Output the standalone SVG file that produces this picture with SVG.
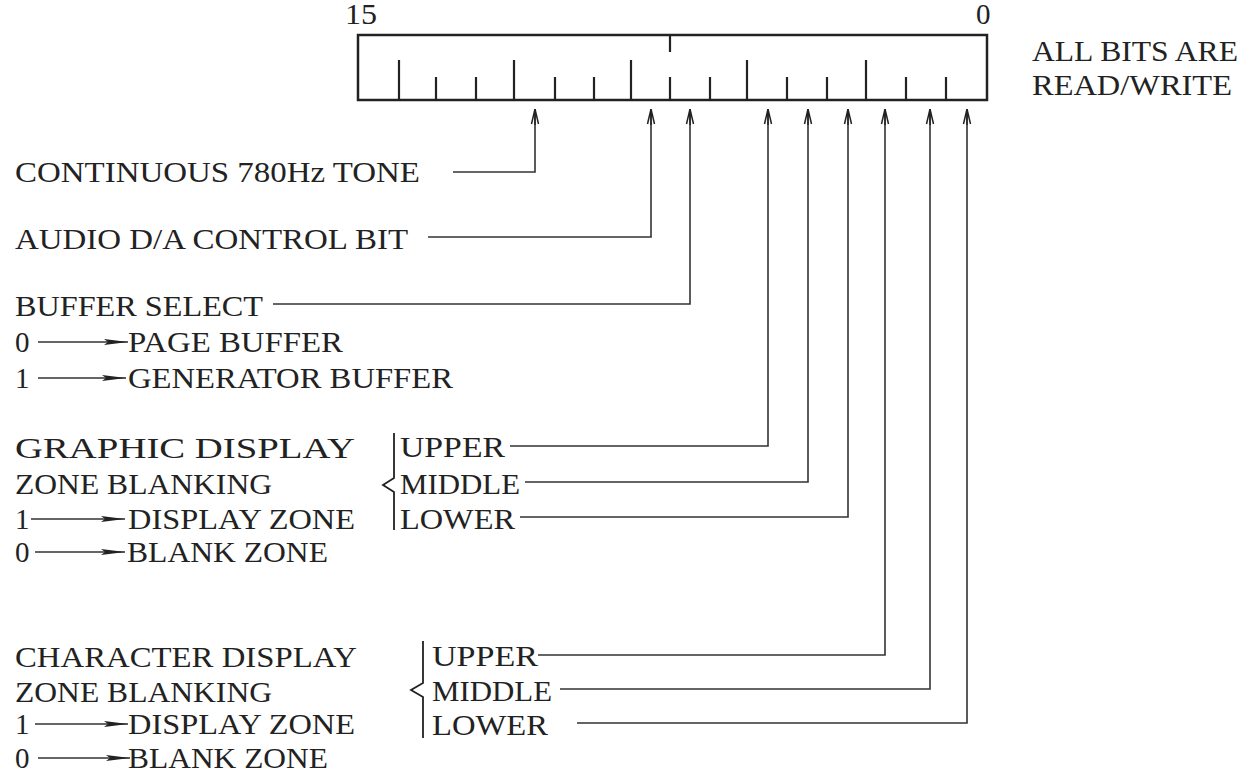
<svg xmlns="http://www.w3.org/2000/svg" width="1247" height="772" viewBox="0 0 1247 772">
<defs>
<marker id="up" viewBox="0 0 16 10" refX="16" refY="5" markerWidth="16" markerHeight="10" markerUnits="userSpaceOnUse" orient="auto">
<path d="M16,5 L1,1.5 M16,5 L1,8.5 M16,5 L0,5" fill="none" stroke="#222" stroke-width="1.5"/>
</marker>
<marker id="fa" viewBox="0 0 24 10" refX="24" refY="5" markerWidth="24" markerHeight="10" markerUnits="userSpaceOnUse" orient="auto">
<path d="M0,2 L24,5 L0,8 L4,5 Z" fill="#222"/>
</marker>
<style>
text{font-family:"Liberation Serif","DejaVu Serif",serif;font-size:29px;fill:#222}
.ln{fill:none;stroke:#333;stroke-width:1.6}
.tk{stroke:#222;stroke-width:2.2}
.br{fill:none;stroke:#222;stroke-width:1.8}
</style>
</defs>

<g id="register">
<rect x="358" y="35" width="629" height="65" fill="none" stroke="#222" stroke-width="2.5"/>
<line class="tk" x1="670" y1="35" x2="670" y2="52"/>
<g class="tk">
<line x1="399" y1="60" x2="399" y2="100"/>
<line x1="436" y1="77" x2="436" y2="100"/>
<line x1="476" y1="77" x2="476" y2="100"/>
<line x1="514" y1="60" x2="514" y2="100"/>
<line x1="555" y1="77" x2="555" y2="100"/>
<line x1="594" y1="77" x2="594" y2="100"/>
<line x1="631" y1="60" x2="631" y2="100"/>
<line x1="670" y1="77" x2="670" y2="100"/>
<line x1="710" y1="77" x2="710" y2="100"/>
<line x1="747" y1="60" x2="747" y2="100"/>
<line x1="787" y1="77" x2="787" y2="100"/>
<line x1="827" y1="77" x2="827" y2="100"/>
<line x1="866" y1="60" x2="866" y2="100"/>
<line x1="906" y1="77" x2="906" y2="100"/>
<line x1="946" y1="77" x2="946" y2="100"/>
</g>
<text x="345" y="24" textLength="32" lengthAdjust="spacingAndGlyphs">15</text>
<text x="976" y="24">0</text>
</g>

<g id="rw-note">
<text x="1032" y="61" textLength="206" lengthAdjust="spacingAndGlyphs">ALL BITS ARE</text>
<text x="1032" y="95" textLength="200" lengthAdjust="spacingAndGlyphs">READ/WRITE</text>
</g>

<g id="connectors">
<polyline class="ln" points="453,172 535,172 535,109" marker-end="url(#up)"/>
<polyline class="ln" points="428,237 651,237 651,109" marker-end="url(#up)"/>
<polyline class="ln" points="273,304 690,304 690,109" marker-end="url(#up)"/>
<polyline class="ln" points="510,446 768,446 768,109" marker-end="url(#up)"/>
<polyline class="ln" points="525,482 808,482 808,109" marker-end="url(#up)"/>
<polyline class="ln" points="520,517 848,517 848,109" marker-end="url(#up)"/>
<polyline class="ln" points="538,655 885,655 885,109" marker-end="url(#up)"/>
<polyline class="ln" points="560,689 930,689 930,109" marker-end="url(#up)"/>
<polyline class="ln" points="577,723 967,723 967,109" marker-end="url(#up)"/>
</g>

<g id="tone">
<text x="15" y="182" textLength="405" lengthAdjust="spacingAndGlyphs">CONTINUOUS 780Hz TONE</text>
</g>

<g id="audio">
<text x="15" y="249" textLength="393" lengthAdjust="spacingAndGlyphs">AUDIO D/A CONTROL BIT</text>
</g>

<g id="buffer-select">
<text x="15" y="316" textLength="248" lengthAdjust="spacingAndGlyphs">BUFFER SELECT</text>
<text x="15" y="352">0</text>
<line class="ln" x1="38" y1="342" x2="128" y2="342" marker-end="url(#fa)"/>
<text x="128" y="352" textLength="215" lengthAdjust="spacingAndGlyphs">PAGE BUFFER</text>
<text x="15" y="388">1</text>
<line class="ln" x1="38" y1="378" x2="126" y2="378" marker-end="url(#fa)"/>
<text x="128" y="388" textLength="325" lengthAdjust="spacingAndGlyphs">GENERATOR BUFFER</text>
</g>

<g id="graphic-blanking">
<text x="15" y="458" textLength="340" lengthAdjust="spacingAndGlyphs">GRAPHIC DISPLAY</text>
<text x="15" y="494" textLength="257" lengthAdjust="spacingAndGlyphs">ZONE BLANKING</text>
<text x="15" y="529">1</text>
<line class="ln" x1="31" y1="519" x2="125" y2="519" marker-end="url(#fa)"/>
<text x="128" y="529" textLength="227" lengthAdjust="spacingAndGlyphs">DISPLAY ZONE</text>
<text x="15" y="562">0</text>
<line class="ln" x1="35" y1="552" x2="125" y2="552" marker-end="url(#fa)"/>
<text x="127" y="562" textLength="201" lengthAdjust="spacingAndGlyphs">BLANK ZONE</text>
<path class="br" d="M394,433 L394,478 L383,485 L394,492 L394,530"/>
<text x="400" y="457" textLength="105" lengthAdjust="spacingAndGlyphs">UPPER</text>
<text x="400" y="494" textLength="120" lengthAdjust="spacingAndGlyphs">MIDDLE</text>
<text x="400" y="529" textLength="115" lengthAdjust="spacingAndGlyphs">LOWER</text>
</g>

<g id="character-blanking">
<text x="15" y="667" textLength="342" lengthAdjust="spacingAndGlyphs">CHARACTER DISPLAY</text>
<text x="15" y="702" textLength="257" lengthAdjust="spacingAndGlyphs">ZONE BLANKING</text>
<text x="15" y="734">1</text>
<line class="ln" x1="35" y1="724" x2="128" y2="724" marker-end="url(#fa)"/>
<text x="128" y="734" textLength="227" lengthAdjust="spacingAndGlyphs">DISPLAY ZONE</text>
<text x="15" y="768">0</text>
<line class="ln" x1="38" y1="758" x2="130" y2="758" marker-end="url(#fa)"/>
<text x="128" y="768" textLength="200" lengthAdjust="spacingAndGlyphs">BLANK ZONE</text>
<path class="br" d="M423,641 L423,683 L411,690 L423,697 L423,738"/>
<text x="432" y="666" textLength="106" lengthAdjust="spacingAndGlyphs">UPPER</text>
<text x="432" y="701" textLength="120" lengthAdjust="spacingAndGlyphs">MIDDLE</text>
<text x="432" y="735" textLength="116" lengthAdjust="spacingAndGlyphs">LOWER</text>
</g>
</svg>
